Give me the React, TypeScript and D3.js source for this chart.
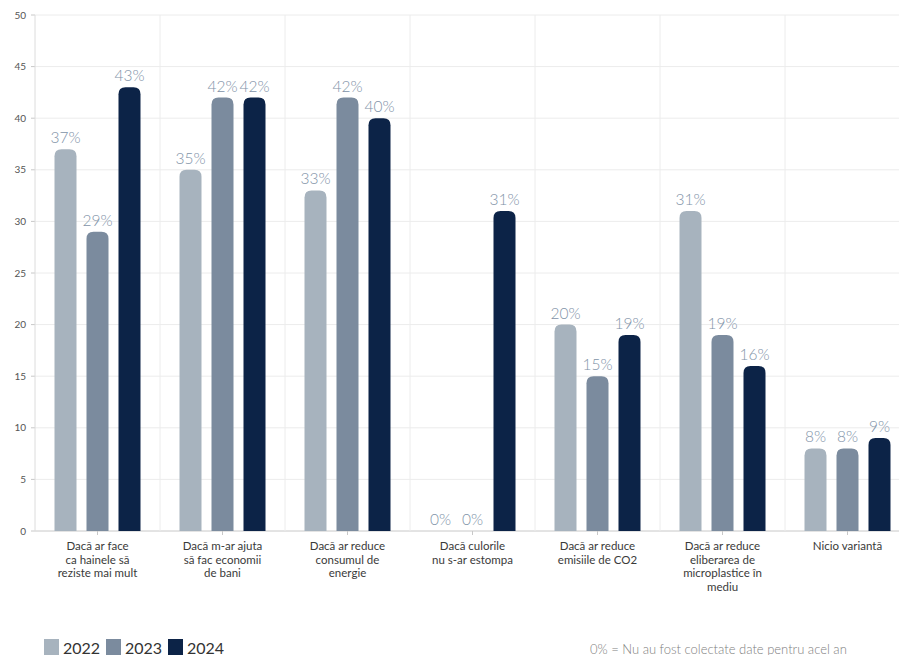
import React from "react";
import * as d3 from "d3";

const categories: string[][] = [
  ["Dacă ar face", "ca hainele să", "reziste mai mult"],
  ["Dacă m-ar ajuta", "să fac economii", "de bani"],
  ["Dacă ar reduce", "consumul de", "energie"],
  ["Dacă culorile", "nu s-ar estompa"],
  ["Dacă ar reduce", "emisiile de CO2"],
  ["Dacă ar reduce", "eliberarea de", "microplastice în", "mediu"],
  ["Nicio variantă"],
];
const years = ["2022", "2023", "2024"];
const values2022 = [37, 35, 33, 0, 20, 31, 8];
const values2023 = [29, 42, 42, 0, 15, 19, 8];
const values2024 = [43, 42, 40, 31, 19, 16, 9];
const yTicks = [0, 5, 10, 15, 20, 25, 30, 35, 40, 45, 50];
const footnote = "0% = Nu au fost colectate date pentru acel an";

const colors = ["#a7b3be", "#7b8b9e", "#0c2347"];

export default function App() {
  const W = 899, H = 655;
  const left = 35, right = 910, top = 15, bottom = 531;
  const series = [values2022, values2023, values2024];
  const idx = categories.map((_, i) => i);
  const x = d3.scaleBand<number>().domain(idx).range([left, right]).paddingInner(0).paddingOuter(0);
  const step = 32;
  const xs = d3.scaleBand<number>().domain([0, 1, 2]).range([-1.5 * step, 1.5 * step]).padding(0);
  const y = d3.scaleLinear().domain([0, 50]).range([bottom, top]);
  const bw = 22;
  const r = 7;
  const barPath = (x0: number, y0: number, w: number, h: number) => {
    if (h <= 0) return "";
    const rr = Math.min(r, h, w / 2);
    return `M${x0},${y0 + h}V${y0 + rr}Q${x0},${y0} ${x0 + rr},${y0}H${x0 + w - rr}Q${x0 + w},${y0} ${x0 + w},${y0 + rr}V${y0 + h}Z`;
  };
  const font = "Lato, 'DejaVu Sans', sans-serif";
  return (
    <svg width={W} height={H} style={{ position: "absolute", left: 0, top: 0, background: "#fff" }} fontFamily={font}>
      {yTicks.map((t) => (
        <g key={t}>
          <line x1={left} x2={W} y1={y(t)} y2={y(t)} stroke={t === 0 ? "#c8c8c8" : "#ececec"} strokeWidth={1} />
          <line x1={left - 4} x2={left} y1={y(t)} y2={y(t)} stroke="#c8c8c8" />
          <text x={left - 9} y={y(t)} dy="0.35em" textAnchor="end" fontSize={10} fill="#555">{t}</text>
        </g>
      ))}
      <line x1={left} x2={left} y1={top} y2={bottom} stroke="#dcdcdc" />
      {idx.slice(1).map((i) => (
        <line key={i} x1={x(i)!} x2={x(i)!} y1={top} y2={bottom} stroke="#ececec" />
      ))}
      {idx.map((i) => {
        const c = x(i)! + x.bandwidth() / 2;
        return (
          <g key={i}>
            {series.map((s, k) => {
              const cx = c + xs(k)! + xs.bandwidth() / 2;
              const v = s[i];
              return (
                <g key={k}>
                  <path d={barPath(cx - bw / 2, y(v), bw, y(0) - y(v))} fill={colors[k]} />
                  <text x={cx} y={y(v) - 6} textAnchor="middle" fontSize={15.5} fontWeight={300} fill="#8193a8">{v}%</text>
                </g>
              );
            })}
            <line x1={c} x2={c} y1={bottom} y2={bottom + 4} stroke="#c8c8c8" />
            <text x={c} y={550} textAnchor="middle" fontSize={11.5} fill="#3a3a3a">
              {categories[i].map((l, j) => (
                <tspan key={j} x={c} dy={j === 0 ? 0 : 13.5}>{l}</tspan>
              ))}
            </text>
          </g>
        );
      })}
      {years.map((yr, k) => (
        <g key={yr} transform={`translate(${44 + k * 62},639)`}>
          <rect x={0} y={0} width={15} height={16} fill={colors[k]} />
          <text x={19} y={15} fontSize={16} fill="#333">{yr}</text>
        </g>
      ))}
      <text x={590} y={654} fontSize={13} fontWeight={300} fill="#808080">{footnote}</text>
    </svg>
  );
}
